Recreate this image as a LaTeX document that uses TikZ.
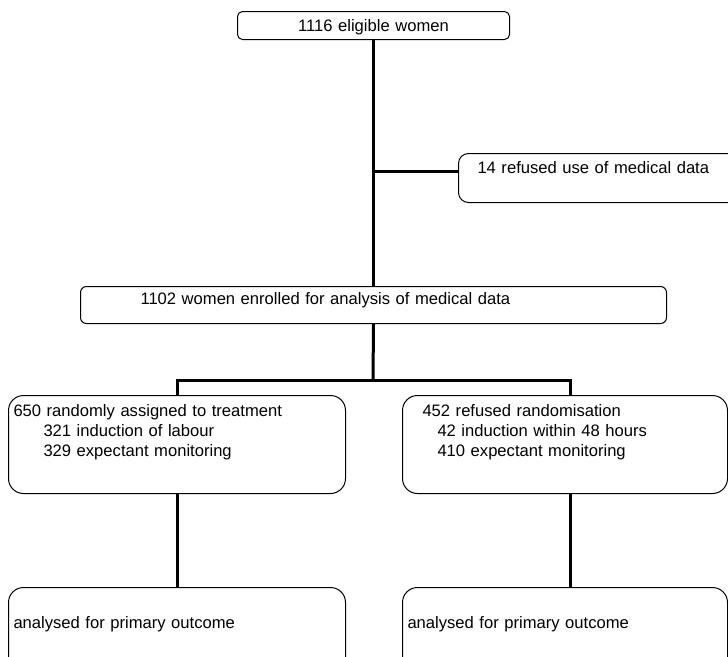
\documentclass[tikz,border=0pt]{standalone}
\usepackage{fontspec}
\setmainfont{Liberation Sans}
\begin{document}
\begin{tikzpicture}[x=1pt,y=-1pt,
	every node/.style={font=\fontsize{16.6}{20}\selectfont},
	box/.style={draw,line width=1pt,inner sep=0pt,anchor=north west,align=left},
	link/.style={line width=3pt}]
	% 画布范围
	\useasboundingbox (0,0) rectangle (728,656);
	\clip (0,0) rectangle (728,656);
	% 各个方框
	\node[box,align=center,rounded corners=5pt,text width=272pt,text height=20pt,text depth=8pt] (elig) at (237,11) {1116 eligible women};
	\node[box,rounded corners=10pt,inner xsep=19pt,text width=300pt,text height=20pt,text depth=29pt] (refuse) at (458,153) {14 refused use of medical data};
	\node[box,rounded corners=6pt,inner xsep=60pt,text width=466pt,text height=18pt,text depth=19pt] (enrol) at (80,286) {1102 women enrolled for analysis of medical data};
	\node[box,rounded corners=15pt,inner xsep=5pt,text width=327pt,text height=21pt,text depth=77pt] (rand) at (8,395) {650 randomly assigned to treatment\\\hspace*{30pt}321 induction of labour\\\hspace*{30pt}329 expectant monitoring};
	\node[box,rounded corners=15pt,inner xsep=20pt,text width=285pt,text height=21pt,text depth=77pt] (refr) at (402,395) {452 refused randomisation\\\hspace*{15pt}42 induction within 48 hours\\\hspace*{15pt}410 expectant monitoring};
	\node[box,rounded corners=15pt,inner xsep=5pt,text width=327pt,text height=41pt,text depth=100pt] (randout) at (8,587) {analysed for primary outcome};
	\node[box,rounded corners=15pt,inner xsep=5pt,text width=315pt,text height=41pt,text depth=100pt] (refrout) at (402,587) {analysed for primary outcome};
	% 连接线
	\coordinate (fork) at (373,380);
	\draw[link] (elig.south) -- (enrol.north);
	\draw[link] (elig.south) |- ([yshift=6.5pt]refuse.west);
	\draw[link] (enrol.south) -- (fork);
	\draw[link] (rand.north) |- (fork);
	\draw[link] ([xshift=5.5pt]refr.north) |- (fork);
	\draw[link] (rand.south) -- (randout.north);
	\draw[link] ([xshift=5.5pt]refr.south) -- ([xshift=5.5pt]refrout.north);
\end{tikzpicture}
\end{document}
